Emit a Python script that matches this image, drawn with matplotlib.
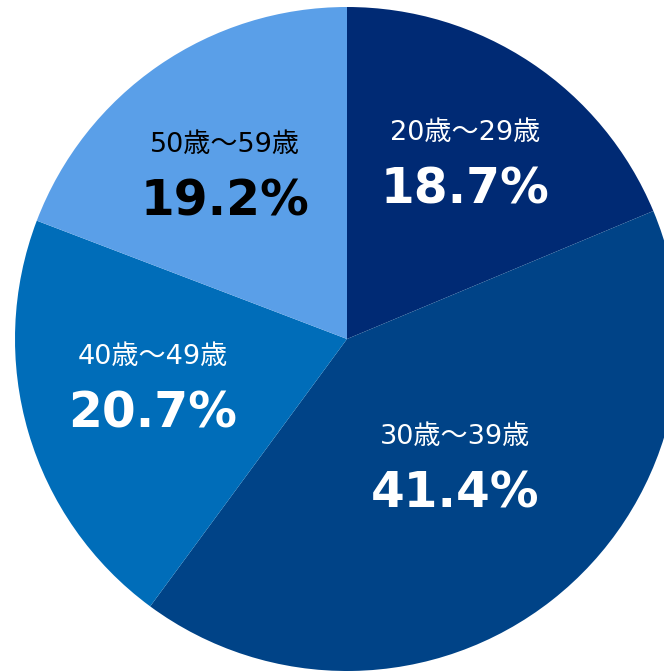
import matplotlib
matplotlib.use('Agg')
import matplotlib.pyplot as plt

# Age groups and their shares (%)
labels = ['20歳～29歳', '30歳～39歳', '40歳～49歳', '50歳～59歳']
shares = [18.7, 41.4, 20.7, 19.2]
colors = ['#002A74', '#004387', '#006DB9', '#5A9FE8']
text_colors = ['white', 'white', 'white', 'black']

# label anchor points in pixel coordinates (x, y from top)
label_pos = [(465, 133), (455, 437), (153, 357), (225, 145)]

fig = plt.figure(figsize=(6.64, 6.71), dpi=100)
ax = fig.add_axes([0, 0, 1, 1])

H = 671
ax.pie(shares, colors=colors, startangle=90, counterclock=False,
       center=(347, H - 339), radius=332,
       wedgeprops={'linewidth': 0})

for lab, val, (x, y), tc in zip(labels, shares, label_pos, text_colors):
    ax.text(x, H - y, lab, ha='center', va='center', color=tc, fontsize=19.5,
            family=['DejaVu Sans', 'Noto Sans CJK JP'])
    ax.text(x, H - y - 56, f'{val:.1f}%', ha='center', va='center', color=tc,
            fontsize=35, fontweight='bold', family='DejaVu Sans')

ax.set_xlim(0, 664)
ax.set_ylim(0, H)
ax.set_aspect('equal')
ax.set_axis_off()

plt.savefig('out.png', dpi=100)
plt.close()
